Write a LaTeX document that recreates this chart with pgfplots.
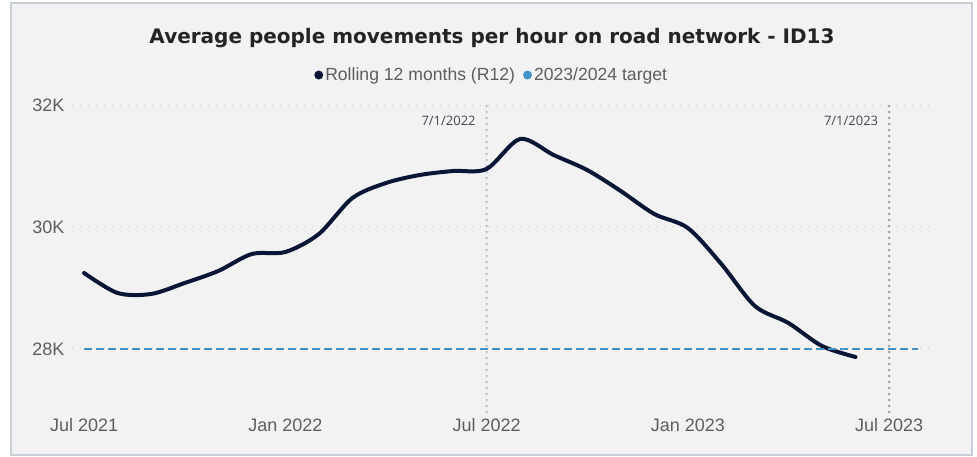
\documentclass[border=0pt]{standalone}
\usepackage{pgfplots}
\pgfplotsset{compat=1.18}
\usepackage{fontspec}
\setmainfont{Liberation Sans}
\newfontfamily\datefont{Open Sans}
\newfontfamily\titlefont{DejaVu Sans}
\definecolor{panelbg}{HTML}{F2F2F2}
\definecolor{panelborder}{HTML}{C9CFD8}
\definecolor{rtwelve}{HTML}{0A1635}
\definecolor{target}{HTML}{4393C8}
\definecolor{ticktext}{HTML}{605E5C}
\definecolor{titletext}{HTML}{252423}
\definecolor{gridc}{HTML}{C6C6C6}
\definecolor{vlineA}{HTML}{C4C4C4}
\definecolor{vlineB}{HTML}{A4A4AC}
\definecolor{datetext}{HTML}{3F4757}

\begin{document}
\begin{tikzpicture}
\fill[white] (0pt,0pt) rectangle (977pt,456pt);
\filldraw[fill=panelbg, draw=panelborder, line width=1.5pt] (11pt,1pt) rectangle (972pt,453pt);
\node[font=\titlefont\fontsize{20}{24}\selectfont\bfseries, text=titletext] at (492pt,418pt)
  {Average people movements per hour on road network - ID13};
\begin{axis}[
  at={(72pt,44pt)}, anchor=south west,
  width=860pt, height=312pt, scale only axis,
  xmin=-0.36, xmax=25.28, ymin=26967, ymax=32082,
  axis line style={draw=none}, major tick length=0pt,
  xtick={0,6,12,18,24},
  xticklabels={Jul 2021,Jan 2022,Jul 2022,Jan 2023,Jul 2023},
  ytick={28000,30000,32000}, yticklabels={28K,30K,32K},
  scaled y ticks=false,
  tick label style={font=\fontsize{18}{20}\selectfont, text=ticktext},
  yticklabel style={xshift=-4pt},
  xticklabel style={yshift=-3pt},
  ymajorgrids, grid style={gridc, line width=1pt, dash pattern=on 1pt off 7pt},
  legend columns=2,
  legend style={at={(0.488,1.08)}, anchor=center, draw=none, fill=none,
    font=\fontsize{17.6}{20}\selectfont, text=ticktext,
    /tikz/every even column/.append style={column sep=6pt}},
  legend image code/.code={\fill[#1, draw=none, solid] (3pt,0pt) circle (4.5pt);},
  legend cell align=left,
  clip=false,
]
\addplot[vlineA, line width=3pt, line cap=round, dash pattern=on 0pt off 6pt, forget plot]
  coordinates {(12,26967) (12,32082)};
\addplot[vlineB, line width=3pt, line cap=round, dash pattern=on 0pt off 6pt, forget plot]
  coordinates {(24,26967) (24,32082)};
\addplot[rtwelve, line width=4pt, smooth, tension=0.5, line cap=round] coordinates {
  (0,29246) (1,28918) (2,28902) (3,29082) (4,29279) (5,29557) (6,29590)
  (7,29885) (8,30475) (9,30721) (10,30852) (11,30918) (12,30951) (13,31443)
  (14,31180) (15,30934) (16,30590) (17,30213) (18,29984) (19,29393) (20,28705)
  (21,28426) (22,28049) (23,27869)
};
\addplot[target, line width=2pt, dash pattern=on 8pt off 4pt] coordinates {(0,28000) (24.85,28000)};
\legend{Rolling 12 months (R12), 2023/2024 target}
\node[anchor=east, font=\datefont\fontsize{13}{15}\selectfont, text=datetext] at (axis cs:11.78,31735) {7/1/2022};
\node[anchor=east, font=\datefont\fontsize{13}{15}\selectfont, text=datetext] at (axis cs:23.78,31735) {7/1/2023};
\end{axis}
\end{tikzpicture}
\end{document}
